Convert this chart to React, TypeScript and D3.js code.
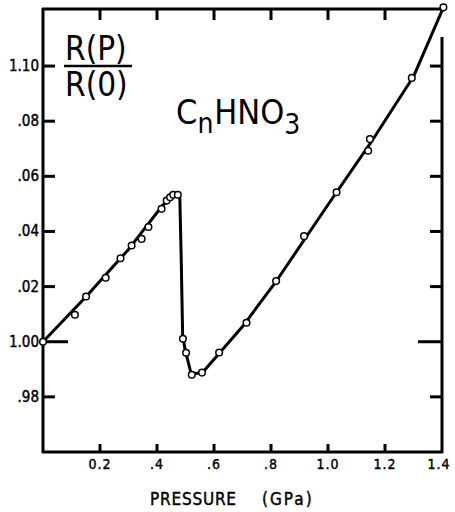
import * as d3 from "d3";
import React, { useEffect, useRef } from "react";

// measured points (pressure GPa, R(P)/R(0))
const pressure = [0, 0.112, 0.151, 0.22, 0.272, 0.311, 0.346, 0.37, 0.416, 0.434, 0.446, 0.457, 0.473,
  0.491, 0.502, 0.522, 0.558, 0.618, 0.714, 0.818, 0.916, 1.03, 1.141, 1.147, 1.294, 1.405];
const ratio = [1.0, 1.0098, 1.0164, 1.0232, 1.0303, 1.0349, 1.0373, 1.0416, 1.0482, 1.0512, 1.0524, 1.0533, 1.0533,
  1.0011, 0.996, 0.988, 0.9888, 0.9961, 1.0069, 1.022, 1.0383, 1.0542, 1.0693, 1.0735, 1.0957, 1.1213];

// hand-drawn fit line through the points
const curveP = [0, 0.15, 0.3, 0.42, 0.465, 0.48, 0.485, 0.49, 0.5, 0.52, 0.56, 0.7, 0.82, 1.0, 1.15, 1.3, 1.405];
const curveR = [1.0, 1.0162, 1.0335, 1.0495, 1.0532, 1.0525, 1.03, 1.002, 0.9965, 0.9883, 0.9888, 1.0055, 1.0222, 1.0497, 1.0722, 1.0962, 1.1213];

const xTicks = [0.2, 0.4, 0.6, 0.8, 1.0, 1.2, 1.4];
const xTickLabels = ["0.2", ".4", ".6", ".8", "1.0", "1.2", "1.4"];
const yTicks = [0.98, 1.0, 1.02, 1.04, 1.06, 1.08, 1.1];
const yTickLabels = [".98", "1.00", ".02", ".04", ".06", ".08", "1.10"];

function Chart() {
  const ref = useRef<SVGSVGElement>(null);

  useEffect(() => {
    const svg = d3.select(ref.current);
    svg.selectAll("*").remove();
    const font = "'DejaVu Sans Condensed', 'DejaVu Sans', sans-serif";

    const x = d3.scaleLinear().domain([0, 1.4]).range([43, 442]);
    const y = d3.scaleLinear().domain([0.96, 1.1207]).range([452, 9]);

    const g = svg.append("g");

    // frame
    g.append("line").attr("x1", 43).attr("x2", 43).attr("y1", 8).attr("y2", 453)
      .attr("stroke", "#000").attr("stroke-width", 3);
    g.append("line").attr("x1", 42).attr("x2", 443).attr("y1", 452).attr("y2", 452)
      .attr("stroke", "#000").attr("stroke-width", 3);
    g.append("line").attr("x1", 42).attr("x2", 443).attr("y1", 9).attr("y2", 9)
      .attr("stroke", "#000").attr("stroke-width", 3);
    g.append("line").attr("x1", 442).attr("x2", 442).attr("y1", 37).attr("y2", 453)
      .attr("stroke", "#000").attr("stroke-width", 3);

    // x ticks (bottom + top, inward)
    xTicks.slice(0, -1).forEach((t) => {
      g.append("line").attr("x1", x(t)).attr("x2", x(t)).attr("y1", 452).attr("y2", 444)
        .attr("stroke", "#000").attr("stroke-width", 3);
      g.append("line").attr("x1", x(t)).attr("x2", x(t)).attr("y1", 9).attr("y2", 20)
        .attr("stroke", "#000").attr("stroke-width", 3);
    });
    xTicks.forEach((t, i) => {
      g.append("text").attr("x", x(t) + (i === 6 ? -3 : 0)).attr("y", 469)
        .attr("text-anchor", "middle").attr("font-family", font).attr("font-size", 14)
        .attr("stroke", "#000").attr("stroke-width", 0.4)
        .attr("letter-spacing", 1).text(xTickLabels[i]);
    });

    // y ticks (left + right, inward)
    yTicks.forEach((t, i) => {
      const long = t === 1.0;
      g.append("line").attr("x1", 43).attr("x2", long ? 68 : 55).attr("y1", y(t)).attr("y2", y(t))
        .attr("stroke", "#000").attr("stroke-width", 3);
      g.append("line").attr("x1", 442).attr("x2", long ? 418 : 430).attr("y1", y(t)).attr("y2", y(t))
        .attr("stroke", "#000").attr("stroke-width", 3);
      g.append("text").attr("x", 39).attr("y", y(t) + 5)
        .attr("text-anchor", "end").attr("font-family", font).attr("font-size", 15)
        .attr("stroke", "#000").attr("stroke-width", 0.4)
        .text(yTickLabels[i]);
    });

    // fit line
    const line = d3.line<number>().x((d, i) => x(curveP[i])).y((d) => y(d));
    g.append("path").attr("d", line(curveR)).attr("fill", "none")
      .attr("stroke", "#000").attr("stroke-width", 3).attr("stroke-linejoin", "round");

    // points
    g.selectAll("circle.pt").data(ratio).enter().append("circle")
      .attr("class", "pt")
      .attr("cx", (d, i) => x(pressure[i])).attr("cy", (d) => y(d)).attr("r", 3.3)
      .attr("fill", "#fff").attr("stroke", "#000").attr("stroke-width", 1.5);

    // axis title
    g.append("text").attr("x", 150).attr("y", 505).attr("font-family", font).attr("font-size", 17)
      .attr("stroke", "#000").attr("stroke-width", 0.4)
      .attr("letter-spacing", 0.8).text("PRESSURE");
    g.append("text").attr("x", 262).attr("y", 505).attr("font-family", font).attr("font-size", 17)
      .attr("stroke", "#000").attr("stroke-width", 0.4)
      .attr("letter-spacing", 2).text("(GPa)");

    // R(P)/R(0)
    g.append("text").attr("x", 65).attr("y", 60).attr("font-family", font).attr("font-size", 33)
      .text("R(P)");
    g.append("line").attr("x1", 64).attr("x2", 132).attr("y1", 66).attr("y2", 66)
      .attr("stroke", "#000").attr("stroke-width", 2.5);
    g.append("text").attr("x", 65).attr("y", 96).attr("font-family", font).attr("font-size", 33)
      .text("R(0)");

    // CnHNO3
    const lab = g.append("text").attr("x", 176).attr("y", 124).attr("font-family", font).attr("font-size", 34);
    lab.append("tspan").text("C");
    lab.append("tspan").attr("dy", 9).attr("font-size", 28).text("n");
    lab.append("tspan").attr("dy", -9).attr("dx", 1).text("HNO");
    lab.append("tspan").attr("dy", 10).attr("font-size", 28).text("3");
  }, []);

  return <svg ref={ref} width={455} height={512} style={{ display: "block" }} />;
}

export default function App() {
  return (
    <div style={{ position: "absolute", left: 0, top: 0, background: "#fff" }}>
      <Chart />
    </div>
  );
}
